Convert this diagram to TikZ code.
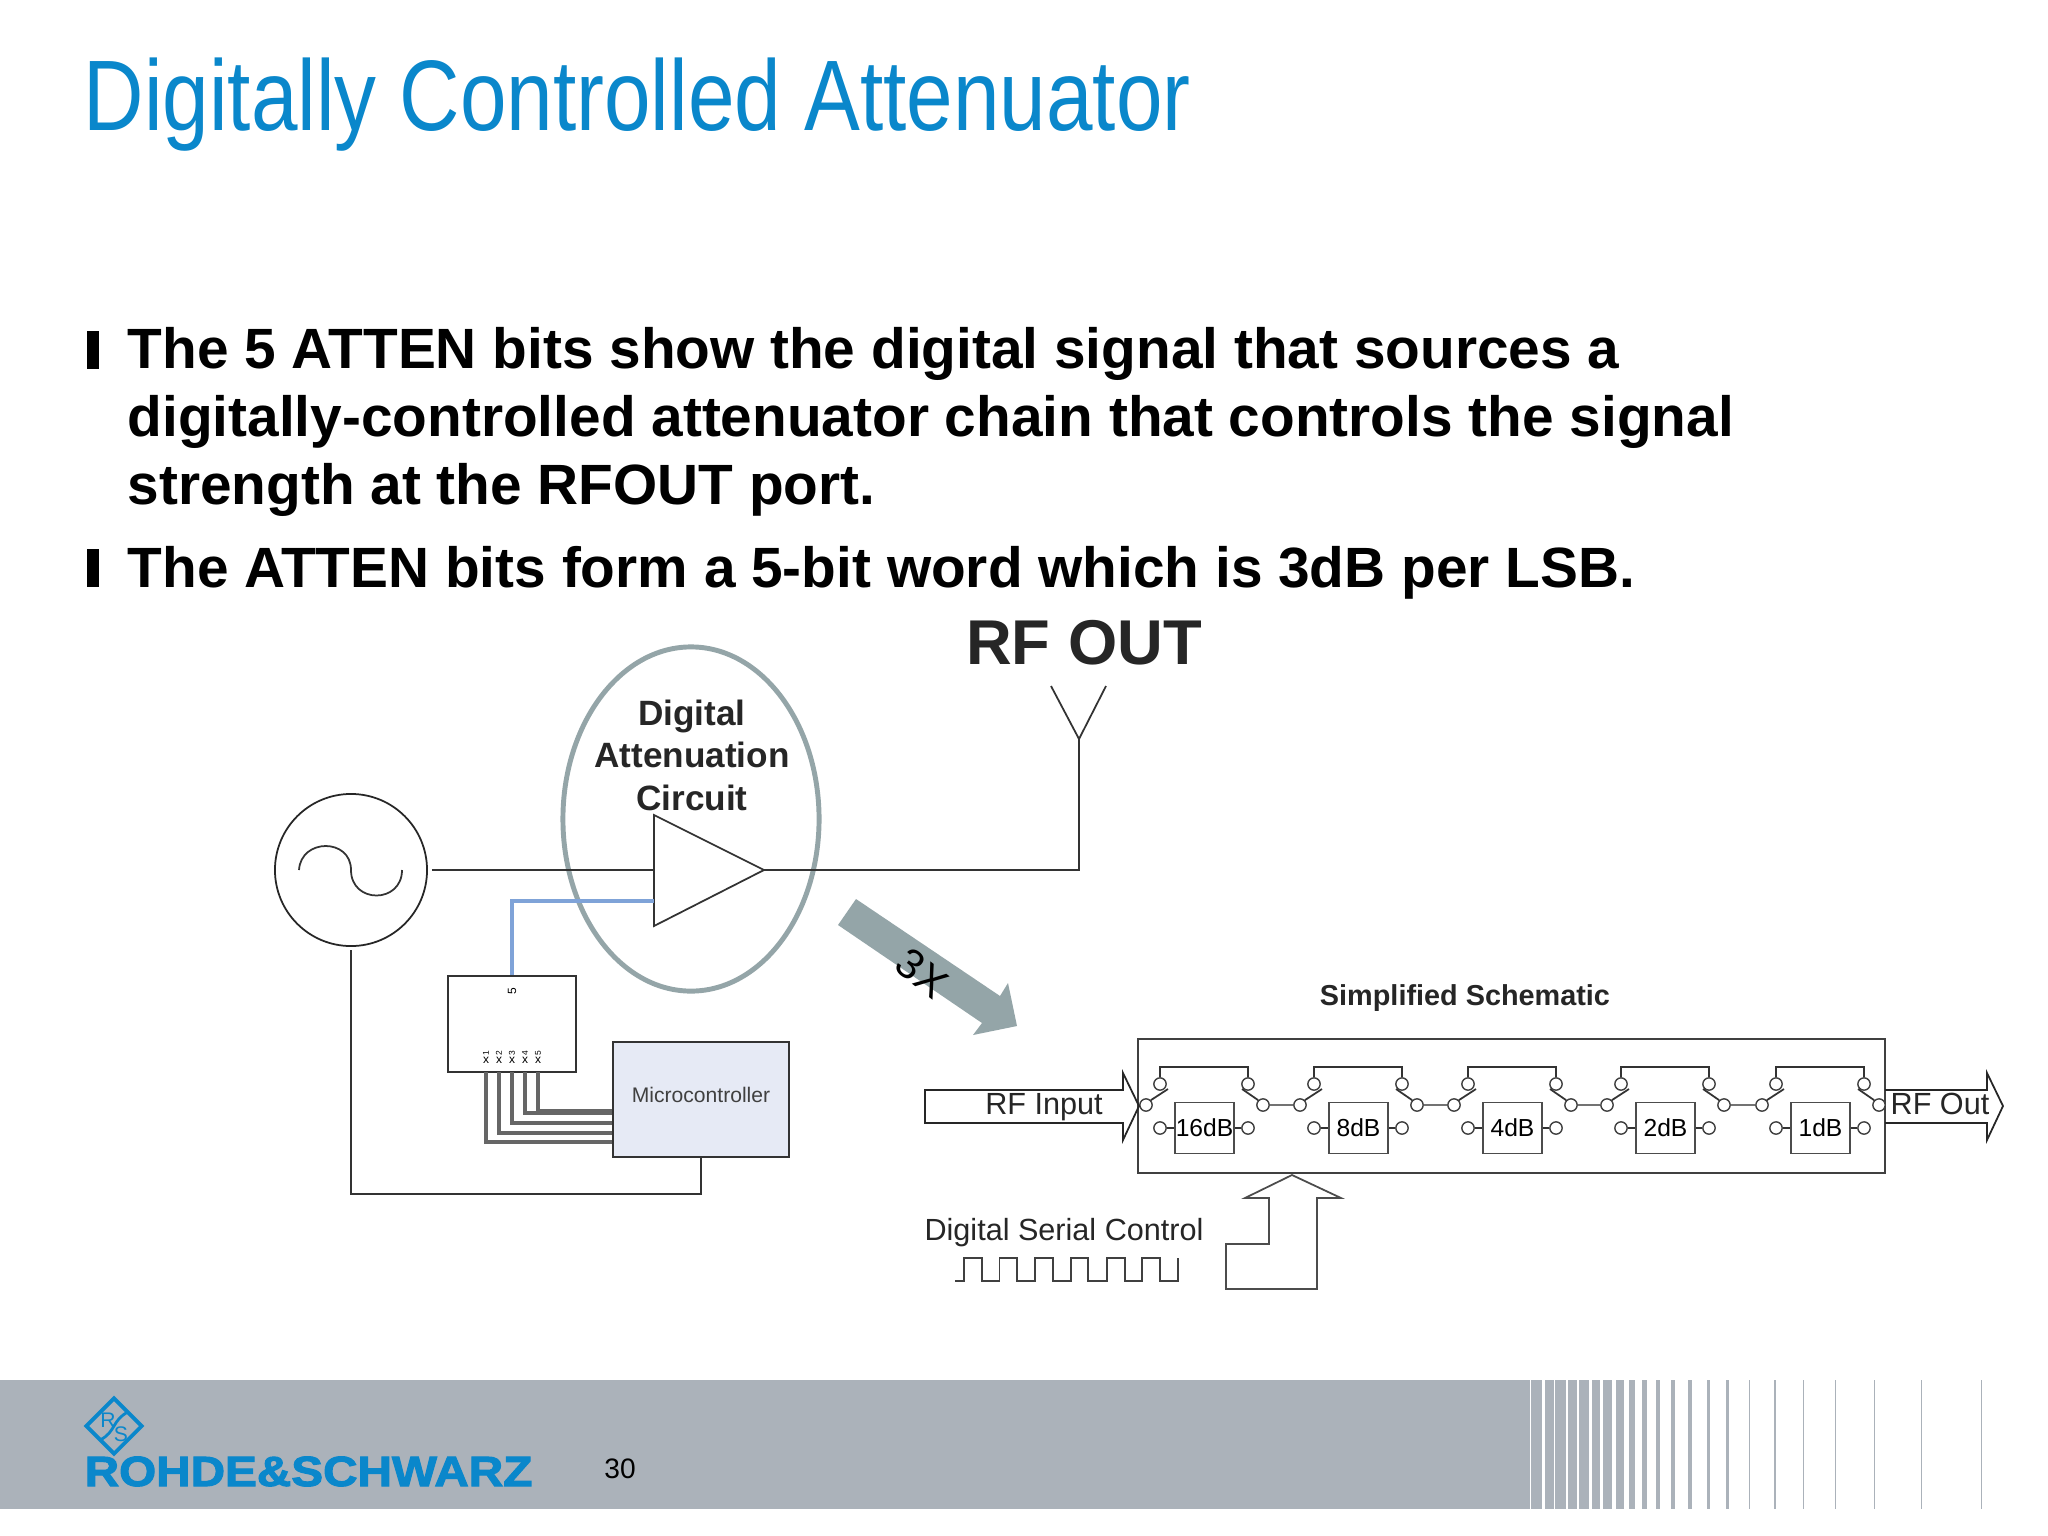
\documentclass[tikz,border=0pt]{standalone}
\usepackage{fontspec}
\setmainfont{Liberation Sans}
\newfontfamily\titlefont[FakeStretch=0.835]{Liberation Sans}
\newfontfamily\logofont[FakeStretch=1.13,FakeBold=2.5]{Liberation Sans Bold}
\usetikzlibrary{arrows.meta, shapes.geometric, positioning, calc}
\definecolor{rsblue}{HTML}{0A87CB}
\definecolor{bandgray}{HTML}{ABB2BA}
\definecolor{ringgray}{HTML}{94A5A8}
\definecolor{ctrlblue}{HTML}{7FA3D8}
\definecolor{mcufill}{HTML}{E6EAF5}

\begin{document}
\begin{tikzpicture}[
  x=0.01cm, y=-0.01cm,
  bodytxt/.style = {anchor=base west, align=left, inner sep=0pt, font=\fontsize{16.15pt}{19.33pt}\selectfont\bfseries},
  bulletbar/.style = {fill=black, inner sep=0pt, minimum width=1.2mm, minimum height=3.8mm},
  lbl/.style = {inner sep=0pt, font=\fontsize{8.7pt}{10pt}\selectfont, text=black!85},
  dbbox/.style = {rectangle, draw=black!70, line width=0.4pt, minimum width=5.9mm, minimum height=5.1mm, inner sep=0pt, font=\fontsize{7pt}{8pt}\selectfont},
  swpin/.style = {circle, draw=black!75, fill=white, line width=0.4pt, minimum size=3.5pt, inner sep=0pt},
  wire/.style = {draw=black!80, line width=0.5pt},
  wirebus/.style = {draw=black!60, line width=0.9pt},
  tinytxt/.style = {inner sep=0pt, font=\fontsize{2.4pt}{3pt}\selectfont}
]
  \useasboundingbox (0,0) rectangle (2048,1536);
  \fill[white] (0,0) rectangle (2048,1536);

  % title and bullets
  \node[anchor=base west, inner sep=0pt, text=rsblue] (title) at (83,130)
        {\titlefont\fontsize{28.5pt}{30pt}\selectfont Digitally Controlled Attenuator};
  \node[bulletbar] (b1) at (93,350) {};
  \node[bodytxt] (t1) at (127,504)
        {The 5 ATTEN bits show the digital signal that sources a\\
         digitally-controlled attenuator chain that controls the signal\\
         strength at the RFOUT port.};
  \node[bulletbar] (b2) at (93,568) {};
  \node[bodytxt] (t2) at (127,587) {The ATTEN bits form a 5-bit word which is 3dB per LSB.};

  % left circuit
  \node[circle, draw=black!85, line width=0.5pt, minimum size=15.2mm, inner sep=0pt] (src) at (351,870) {};
  \draw[line width=0.5pt, black!80] (299,870) .. controls (301,838) and (351,838) .. (351,870)
        .. controls (351,904) and (402,904) .. (402,870);
  \node[draw=ringgray, line width=1.4pt, ellipse, minimum width=25.6mm, minimum height=34.4mm, inner sep=0pt] (ring) at (691,819) {};
  \node[align=center, inner sep=0pt, font=\fontsize{10pt}{12.1pt}\selectfont\bfseries, text=black!85] (ringtxt) at (692,755)
        {Digital\\Attenuation\\Circuit};
  \coordinate (ampa) at (654,815);
  \coordinate (ampb) at (654,926);
  \coordinate (amptip) at (764,870);
  \coordinate (ampin) at (654,870);
  \coordinate (ampctl) at (654,901);
  \draw[wire] (ampa) -- (amptip) -- (ampb) -- cycle;
  \draw[wire] (src.east) ++(4,0) -- (ampin);

  \node[anchor=center, inner sep=0pt, font=\fontsize{18pt}{20pt}\selectfont\bfseries, text=black!85] (rfout) at (1084,643) {RF OUT};
  \coordinate (antfoot) at (1079,739);
  \coordinate (antl) at (1051,686);
  \coordinate (antr) at (1106,686);
  \draw[wire] (antl) -- (antfoot) -- (antr);
  \draw[wire] (amptip) -- (antfoot |- amptip) -- (antfoot);

  \node[draw=black!80, line width=0.6pt, minimum width=12.8mm, minimum height=9.6mm, inner sep=0pt] (chip) at (512,1024) {};
  \node[draw=black!80, fill=mcufill, line width=0.5pt, minimum width=17.6mm, minimum height=11.5mm, inner sep=0pt,
        font=\fontsize{6pt}{7pt}\selectfont, text=black!75, text depth=0pt, yshift=0pt] (mcu) at (701,1099.5) {\raisebox{2.5pt}{Microcontroller}};
  \draw[ctrlblue, line width=0.9pt] (chip.north) |- (ampctl);
  \node[tinytxt, rotate=90, font=\fontsize{3.4pt}{4pt}\selectfont] (pinout) at (512,991) {5};
  \foreach \px/\py/\pn in {486/1142/1, 499/1133/2, 512/1123/3, 525/1113/4, 538/1111/5} {
    \node[tinytxt, rotate=90] (pin\pn) at (\px,1053) {\pn};
    \node[tinytxt, font=\fontsize{3.4pt}{3.4pt}\selectfont] (x\pn) at (\px,1060) {x};
    \coordinate (mcu\pn) at (mcu.west |- 0,\py);
    \coordinate (chip\pn) at (\px,1072);
    \draw[wirebus] (chip\pn) |- (mcu\pn);
  }
  \coordinate (srcdown) at (351,950);
  \draw[wire, line width=0.8pt] (srcdown) |- (701,1194) -- (mcu.south);

  % gray zoom arrow
  \fill[ringgray] (856,899) -- (1000,996) -- (1008,983) -- (1017,1026) -- (973,1035) -- (982,1023) -- (838,925) -- cycle;
  \node[inner sep=0pt, rotate=-38, font=\fontsize{12pt}{14pt}\selectfont] (zoomtxt) at (922,973) {3X};

  % simplified schematic
  \node[inner sep=0pt, font=\fontsize{8.2pt}{9pt}\selectfont\bfseries, text=black!85] (schemtxt) at (1465,998) {Simplified Schematic};
  \node[draw=black!75, line width=0.5pt, minimum width=74.7mm, minimum height=13.4mm, inner sep=0pt] (schem) at (1511.5,1106) {};

  \foreach \lft/\txt/\i in {1175/16dB/1, 1329/8dB/2, 1483/4dB/3, 1636/2dB/4, 1791/1dB/5} {
    \node[dbbox] (db\i) at (\lft+29.5,1128) {\txt};
    \node[swpin] (ll\i) at (\lft-15,1128) {};
    \node[swpin] (lr\i) at (\lft+73,1128) {};
    \node[swpin] (ul\i) at (\lft-15,1084) {};
    \node[swpin] (ur\i) at (\lft+73,1084) {};
    \node[swpin] (sl\i) at (\lft-29,1105) {};
    \node[swpin] (sr\i) at (\lft+88,1105) {};
    \draw[wire, line width=0.4pt] (ll\i) -- (db\i.west |- ll\i);
    \draw[wire, line width=0.4pt] (lr\i) -- (db\i.east |- lr\i);
    \draw[wire] (ul\i.north) -- ++(0,-10) -| (ur\i.north);
    \draw[wire] (sl\i.north east) -- (\lft-7,1089);
    \draw[wire] (sr\i.north west) -- (\lft+67,1089);
  }
  \foreach \a/\b in {1/2, 2/3, 3/4, 4/5}
    \draw[wire, black!55] (sr\a) -- (sl\b);

  \draw[black!85, line width=0.5pt] (925,1090) -- (1123,1090) -- (1123,1073) -- (1139,1106)
        -- (1123,1140) -- (1123,1123) -- (925,1123) -- cycle;
  \node[lbl] (rfin) at (1044,1107) {RF Input};
  \draw[black!85, line width=0.5pt] (1885,1090) -- (1987,1090) -- (1987,1073) -- (2003,1106)
        -- (1987,1140) -- (1987,1123) -- (1885,1123);
  \node[lbl] (rfo) at (1940,1104) {RF Out};
  \node[lbl] (dsc) at (1064,1233) {Digital Serial Control};
  \draw[black!75, line width=0.4pt] (955,1281) -- (964,1281) -- (964,1258) -- (982,1258) -- (982,1281) -- (999.5,1281)
        -- (999.5,1258) -- (1017,1258) -- (1017,1281) -- (1035,1281) -- (1035,1258) -- (1053,1258) -- (1053,1281)
        -- (1071,1281) -- (1071,1258) -- (1088,1258) -- (1088,1281) -- (1107,1281) -- (1107,1258) -- (1125,1258)
        -- (1125,1281) -- (1142,1281) -- (1142,1258) -- (1160,1258) -- (1160,1281) -- (1178,1281) -- (1178,1258);
  \draw[black!70, line width=0.5pt] (1292,1175) -- (1341,1198) -- (1317,1198) -- (1317,1289) -- (1226,1289)
        -- (1226,1244) -- (1269,1244) -- (1269,1198) -- (1245,1198) -- cycle;

  % footer band
  \fill[bandgray] (0,1380) rectangle (1530,1509);
  \foreach \sa/\sb in {1531.4/1542.3, 1544.5/1553.9, 1555.4/1565.9, 1567.7/1577.1, 1579.3/1588.7, 1591.6/1599.9,
                       1603.2/1611.5, 1615.5/1623.5, 1628.9/1635.1, 1642.3/1647.4, 1655.7/1660.4, 1670.9/1674.9,
                       1688.3/1691.6, 1707.2/1710.1, 1726.4/1728.6, 1748.5/1750.3, 1773.8/1775.7, 1803.2/1804.3,
                       1834.7/1835.8, 1873.8/1874.6, 1921/1921.7, 1981.4/1982.2}
    \fill[bandgray] (\sa,1380) rectangle (\sb,1509);
  \node[draw=rsblue, line width=1.1pt, diamond, minimum width=5.7mm, minimum height=5.7mm, inner sep=0pt] (logo) at (114,1426) {};
  \draw[rsblue, line width=0.8pt] (128,1412) .. controls (112,1420) and (116,1432) .. (100,1440);
  \node[inner sep=0pt, text=rsblue, font=\fontsize{6pt}{6pt}\selectfont] (logor) at (108,1420) {R};
  \node[inner sep=0pt, text=rsblue, font=\fontsize{6pt}{6pt}\selectfont] (logos) at (121,1434) {S};
  \node[anchor=base west, inner sep=0pt, text=rsblue] (brand) at (84,1486) {\logofont\fontsize{12pt}{13pt}\selectfont ROHDE\&SCHWARZ};
  \node[inner sep=0pt, font=\fontsize{8pt}{9pt}\selectfont] (pageno) at (620,1469) {30};
\end{tikzpicture}
\end{document}
